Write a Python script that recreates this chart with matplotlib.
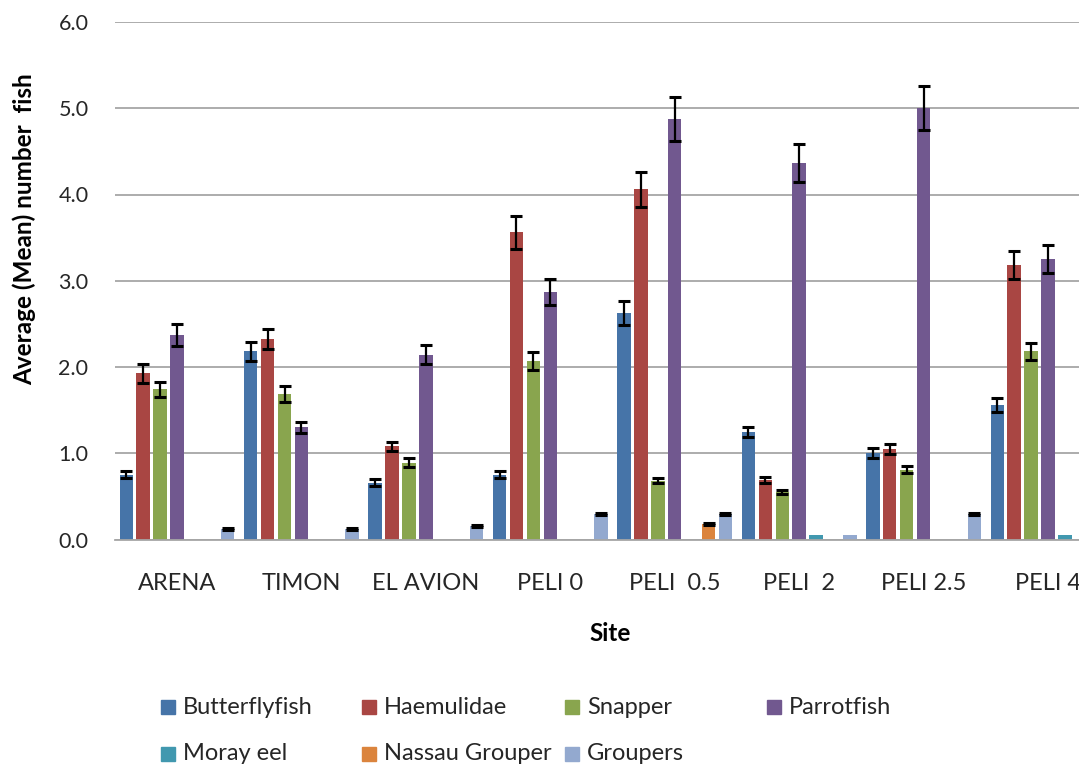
import numpy as np
import matplotlib
matplotlib.use('Agg')
import matplotlib.pyplot as plt
from matplotlib.patches import Rectangle

nan = np.nan

sites = ['ARENA', 'TIMON', 'EL AVION', 'PELI 0', 'PELI  0.5', 'PELI  2', 'PELI 2.5', 'PELI 4']
species = ['Butterflyfish', 'Haemulidae', 'Snapper', 'Parrotfish', 'Moray eel', 'Nassau Grouper', 'Groupers']

butterflyfish = [0.75, 2.18, 0.66, 0.75, 2.63, 1.25, 1.00, 1.56]
butterflyfish_err = [0.04, 0.11, 0.04, 0.04, 0.14, 0.06, 0.06, 0.085]
haemulidae = [1.93, 2.32, 1.08, 3.56, 4.06, 0.69, 1.05, 3.18]
haemulidae_err = [0.11, 0.115, 0.055, 0.19, 0.20, 0.03, 0.055, 0.165]
snapper = [1.74, 1.69, 0.89, 2.07, 0.68, 0.55, 0.81, 2.18]
snapper_err = [0.09, 0.09, 0.05, 0.105, 0.03, 0.025, 0.04, 0.10]
parrotfish = [2.37, 1.30, 2.14, 2.87, 4.87, 4.37, 5.00, 3.25]
parrotfish_err = [0.125, 0.065, 0.11, 0.15, 0.255, 0.22, 0.255, 0.165]
moray_eel = [nan, nan, nan, nan, nan, 0.05, nan, 0.05]
moray_eel_err = [nan, nan, nan, nan, nan, nan, nan, nan]
nassau_grouper = [nan, nan, nan, nan, 0.18, nan, nan, nan]
nassau_grouper_err = [nan, nan, nan, nan, 0.012, nan, nan, nan]
groupers = [0.12, 0.12, 0.16, 0.30, 0.30, 0.05, 0.30, nan]
groupers_err = [0.012, 0.012, 0.012, 0.012, 0.012, nan, 0.012, nan]

values = [butterflyfish, haemulidae, snapper, parrotfish, moray_eel, nassau_grouper, groupers]
errors = [butterflyfish_err, haemulidae_err, snapper_err, parrotfish_err,
          moray_eel_err, nassau_grouper_err, groupers_err]
colors = ['#4674A8', '#A94643', '#89A54E', '#71588F', '#4198AF', '#DB843D', '#93A9CF']

plt.rcParams['font.family'] = ['Lato', 'DejaVu Sans']
text_color = '#262626'

W, H = 1079, 766
fig = plt.figure(figsize=(W / 100, H / 100), dpi=100)
ax = fig.add_axes([114.8 / W, 1 - 539.5 / H, (1110.2 - 114.8) / W, (539.5 - 22) / H])

x = np.arange(len(sites))
pitch = 0.1358
width = 0.108
for j, (vals, errs, color) in enumerate(zip(values, errors, colors)):
    pos = x + (j - 3) * pitch
    vals = np.array(vals, dtype=float)
    errs = np.array(errs, dtype=float)
    shown = np.isfinite(vals)
    ax.bar(pos[shown], vals[shown], width=width, color=color, zorder=2)
    with_err = shown & np.isfinite(errs)
    if with_err.any():
        ax.errorbar(pos[with_err], vals[with_err], yerr=errs[with_err], fmt='none',
                    ecolor='black', elinewidth=1.6, capsize=4.5, capthick=2.2, zorder=3)

ax.set_xlim(-0.5, len(sites) - 0.5)
ax.set_ylim(0, 6)
ax.set_yticks(np.arange(0, 6.01, 1.0))
ax.set_yticklabels([f'{v:.1f}' for v in np.arange(0, 6.01, 1.0)])
ax.set_xticks(x)
ax.set_xticklabels(sites)
ax.tick_params(axis='both', length=0, colors=text_color)
ax.tick_params(axis='x', labelsize=17, pad=24)
ax.tick_params(axis='y', labelsize=15.5, pad=19)
ax.yaxis.grid(True, color='#A6A6A6', linewidth=1.3, zorder=0)
ax.set_axisbelow(True)
for side in ('top', 'right', 'left'):
    ax.spines[side].set_visible(False)
ax.spines['bottom'].set_color('#A6A6A6')
ax.spines['bottom'].set_linewidth(1.3)

ax.set_ylabel('Average (Mean) number  fish', fontsize=17.5, fontweight='bold', color='black',
              va='center')
ax.yaxis.set_label_coords((24 - 114.8) / 995.4, 0.6)
ax.text(0.4975, -0.1826, 'Site', transform=ax.transAxes, ha='center', va='center',
        fontsize=17.5, fontweight='bold', color='black')

# legend laid out the way Excel placed it
legend_slots = [(161, 707), (362, 707), (565, 707), (767, 707),
                (161, 754), (362, 754), (565, 754)]
for (px, py), name, color in zip(legend_slots, species, colors):
    fig.add_artist(Rectangle((px / W, 1 - (py + 7) / H), 14 / W, 14 / H,
                             transform=fig.transFigure, color=color))
    fig.text((px + 22) / W, 1 - py / H, name, ha='left', va='center',
             fontsize=17, color=text_color)

fig.savefig('out.png', dpi=100)
